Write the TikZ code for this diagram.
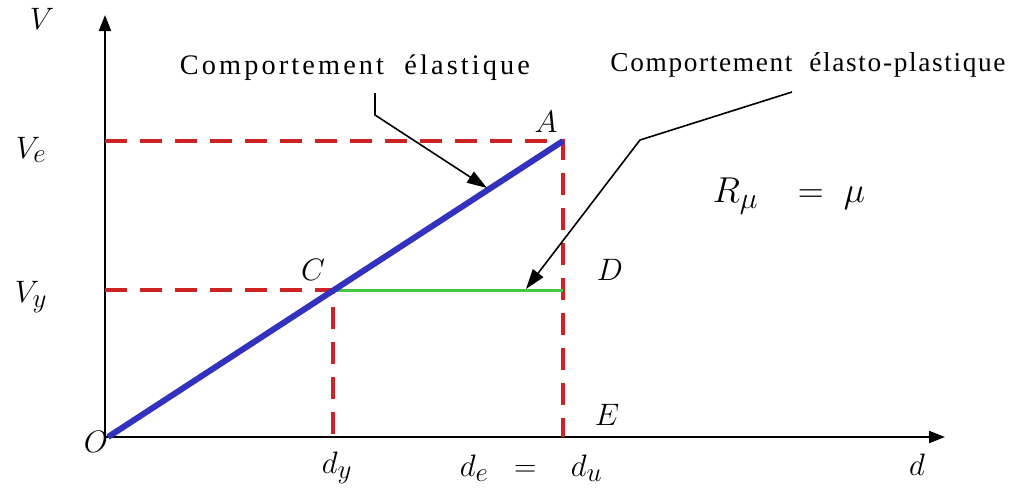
\RequirePackage{fix-cm}
\documentclass[tikz,border=0pt]{standalone}
\usepackage{fontspec}
\newfontfamily\labfonta[LetterSpace=11]{Liberation Serif}
\newfontfamily\labfontb[LetterSpace=6]{Liberation Serif}
\usetikzlibrary{arrows.meta}
\definecolor{dred}{RGB}{205,35,35}
\definecolor{dblue}{RGB}{50,50,190}
\definecolor{dgreen}{RGB}{70,200,70}
\newcommand\msub[1]{_{\mbox{\fontsize{27}{30}\selectfont$#1$}}}
\newcommand\rsub[1]{_{\mbox{\fontsize{30}{34}\selectfont$#1$}}}
\tikzset{
  axis/.style={line width=2pt,-{Triangle[length=16pt,width=12pt]}},
  guide/.style={dred,line width=4pt,dash pattern=on 22pt off 13pt},
  callout/.style={line width=1.6pt,-{Triangle[length=20pt,width=13pt]}},
  mlab/.style={inner sep=0pt,font=\fontsize{31}{36}\selectfont},
  tlab/.style={inner sep=0pt}
}
\begin{document}
\begin{tikzpicture}[x=1pt,y=-1pt]
\useasboundingbox (0,0) rectangle (1013,488);
\fill[white] (0,0) rectangle (1013,488);
% key points
\coordinate (Or) at (105,437);
\coordinate (Ytop) at (105,15);
\coordinate (Xend) at (945,437);
\coordinate (O) at (108,437);
\coordinate (A) at (563,141);
\coordinate (Ve) at (105,141);
\coordinate (Vy) at (105,290);
\coordinate (C) at (333,290);
\coordinate (D) at (563,290);
\coordinate (E) at (563,437);
\coordinate (Cx) at (333,437);
% axes
\draw[axis] (Or) -- (Ytop);
\draw[axis] (Or) -- (Xend);
% guides
\draw[guide] (Ve) -- (A) -- (E);
\draw[guide] (Vy) -- (C) -- (Cx);
% curves
\draw[dgreen,line width=3pt] (C) -- (D);
\draw[dblue,line width=6pt] (O) -- (A);
% labels
\node[mlab] (lV) at (42,19) {$V$};
\node[mlab] (lVe) at (31,150) {$V\msub{e}$};
\node[mlab] (lVy) at (31,297) {$V\msub{y}$};
\node[mlab] (lA) at (546,122) {$A$};
\node[mlab] (lC) at (313,270) {$C$};
\node[mlab] (lD) at (610,270) {$D$};
\node[mlab] (lE) at (607,415) {$E$};
\node[mlab] (lO) at (96,442) {$O$};
\node[mlab] (ldy) at (337,468) {$d\msub{y}$};
\node[mlab] (lde) at (531,468) {$d\msub{e} \;\;=\;\;\; d\msub{u}$};
\node[mlab] (ld) at (917,465) {$d$};
\node[mlab,font=\fontsize{36}{40}\selectfont] (lR) at (789,196) {$R\rsub{\mu}\;\;\;\;{=}\;\;\mu$};
% callouts
\node[tlab] (tel) at (355,68) {\resizebox{350pt}{!}{\labfonta Comportement\ \ élastique}};
\node[tlab] (tpl) at (808,65) {\resizebox{395pt}{!}{\labfontb Comportement\ \ élasto-plastique}};
\coordinate (e1) at (375,93);
\coordinate (e2) at (375,115);
\coordinate (e3) at (487,188);
\coordinate (p1) at (792,92);
\coordinate (p2) at (640,140);
\coordinate (p3) at (526,289);
\draw[callout] (e1) -- (e2) -- (e3);
\draw[callout] (p1) -- (p2) -- (p3);
\end{tikzpicture}
\end{document}
